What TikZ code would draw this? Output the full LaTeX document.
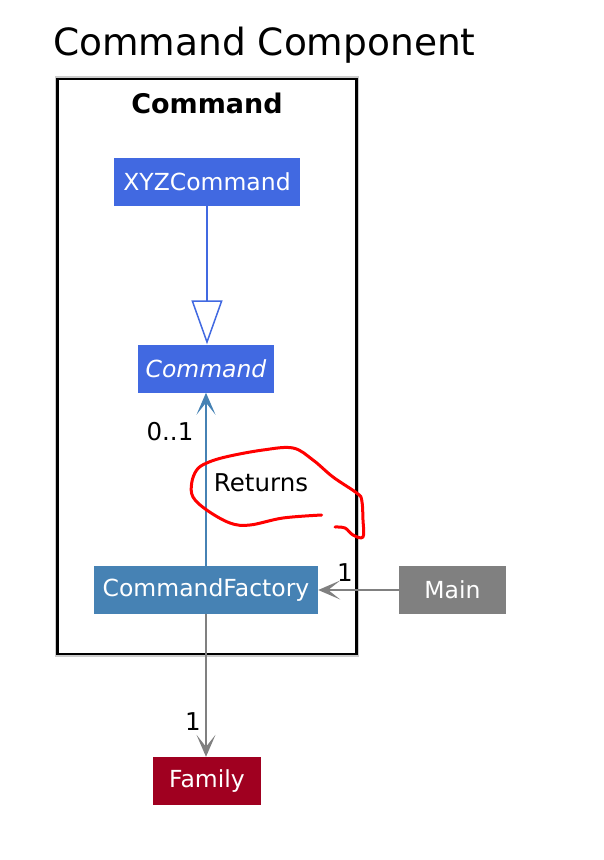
\documentclass[tikz,border=0pt]{standalone}
\usepackage{fontspec}
\setmainfont{DejaVu Sans}
\usetikzlibrary{arrows.meta}
\definecolor{royal}{RGB}{65,105,225}
\definecolor{steel}{RGB}{70,130,180}
\definecolor{umlgray}{RGB}{128,128,128}
\definecolor{famred}{RGB}{160,0,32}
\begin{document}
\begin{tikzpicture}[x=1pt,y=-1pt,
  cls/.style={inner sep=0pt, minimum height=48pt, text=white, font=\fontsize{23.5}{28}\selectfont},
  lbl/.style={inner sep=0pt, text=black, font=\fontsize{24.5}{28}\selectfont},
  assoc/.style={line width=1.5pt, -{Stealth[length=22pt,width=19pt,inset=12pt]}}
]
\useasboundingbox (0,0) rectangle (603,860);
% title
\node[inner sep=0pt, anchor=base west, font=\fontsize{37.5}{44}\selectfont] (title) at (53,55) {Command Component};
% package frame
\draw[gray!40, line width=2.5pt] (56.5,77.5) rectangle (358,655.5);
\node[draw=black, line width=2.5pt, minimum width=299pt, minimum height=575pt, inner sep=0pt] (pkg) at (207,366.5) {};
\node[inner sep=0pt, font=\bfseries\fontsize{27}{32}\selectfont] (pkgname) at (207,103) {Command};
% classes
\node[cls, fill=royal, minimum width=186pt] (xyz) at (207,182) {XYZCommand};
\node[cls, fill=royal, minimum width=136pt, font=\itshape\fontsize{23.5}{28}\selectfont] (cmd) at (206,368.5) {Command};
\node[cls, fill=steel, minimum width=224pt] (cf) at (206,590) {CommandFactory};
\node[cls, fill=umlgray, minimum width=107pt] (main) at (452.5,590) {Main};
\node[cls, fill=famred, minimum width=108pt] (fam) at (207,781) {Family};
% generalization
\draw[royal, line width=1.5pt, -{Triangle[open, length=44pt, width=31pt, line width=1.5pt, fill=white]}] (xyz.south) -- (xyz.south |- cmd.north);
% returns association
\draw[steel, assoc] (cf.north) -- (cf.north |- cmd.south);
\node[lbl] (mult01) at (170,432) {0..1};
\node[lbl] (returns) at (261,483) {Returns};
% main -> commandfactory
\draw[umlgray, assoc] (main.west) -- (cf.east);
\node[lbl] (multmain) at (345,573) {1};
% commandfactory -> family
\draw[umlgray, assoc] (cf.south) -- (cf.south |- fam.north);
\node[lbl] (multfam) at (193,722) {1};
% red hand-drawn annotation
\draw[red, line width=3pt, line cap=round, line join=round]
  plot[smooth, tension=0.6] coordinates {(321.7,515) (283,518) (250,525) (230,523) (206.7,510) (193,497) (191.7,483) (196.7,470) (206.7,463) (226.7,456.7) (263,450) (293,448) (313,460) (333,477) (356.7,493) (361.7,500) (363,520) (363,537) (353,535) (345,528) (335,527)};
\end{tikzpicture}
\end{document}
